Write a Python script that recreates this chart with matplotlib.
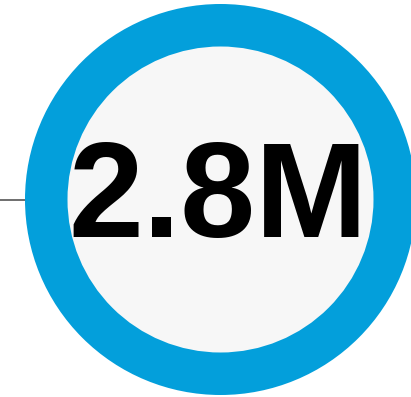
import matplotlib.pyplot as plt
from matplotlib.patches import Circle

# value shown in the badge
value_label = "2.8M"

ring_color = "#039fdb"
fill_color = "#f7f7f7"
line_color = "#555555"

fig = plt.figure(figsize=(4.11, 3.97), dpi=100)
ax = fig.add_axes([0, 0, 1, 1])
ax.set_xlim(0, 411)
ax.set_ylim(397, 0)
ax.set_aspect("equal")
ax.axis("off")

cx, cy = 220.5, 199.5

# connector line on the left
ax.plot([0, cx - 195], [cy, cy], color=line_color, lw=1.2, zorder=1)

# outer ring + inner disc
ax.add_patch(Circle((cx, cy), 195.5, facecolor=ring_color, edgecolor="none", zorder=2))
ax.add_patch(Circle((cx, cy), 153, facecolor=fill_color, edgecolor="none", zorder=3))

ax.text(cx - 2, 188, value_label, ha="center", va="center_baseline",
        fontsize=97, fontweight="bold", family="Liberation Sans",
        color="black", zorder=4)

fig.savefig("out.png", dpi=100)
